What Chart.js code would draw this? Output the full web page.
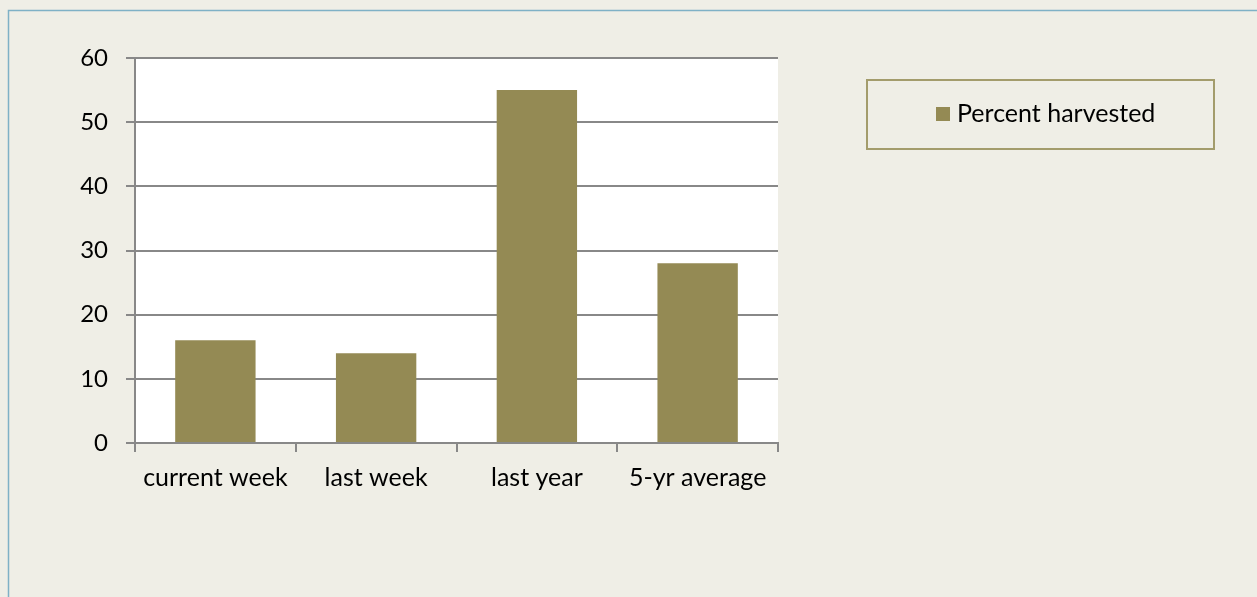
<!DOCTYPE html>
<html>
<head>
<meta charset="utf-8">
<script src="https://cdn.jsdelivr.net/npm/chart.js@4/dist/chart.umd.min.js"></script>
<style>
  html, body { margin: 0; padding: 0; background: #efeee6; overflow: hidden; }
  #grafico { position: absolute; left: 0; top: 0; }
</style>
</head>
<body>
<canvas id="grafico" width="1257" height="597"></canvas>
<script>
// datos
const categorias = ['current week', 'last week', 'last year', '5-yr average'];
const porcentajes = [16, 14, 55, 28];
const nombreSerie = 'Percent harvested';
const colorBarra = '#948a54';

const fuente = "Lato, 'Open Sans', sans-serif";

// fondo, marco exterior y area blanca del grafico
const fondoPlugin = {
    id: 'fondo',
    beforeDraw(chart) {
        const ctx = chart.ctx;
        const a = chart.chartArea;
        ctx.save();
        ctx.fillStyle = '#efeee6';
        ctx.fillRect(0, 0, chart.width, chart.height);
        ctx.strokeStyle = '#7fb1c6';
        ctx.lineWidth = 1.5;
        ctx.strokeRect(8.5, 10.5, 1400, 800);
        ctx.fillStyle = '#ffffff';
        ctx.fillRect(a.left, a.top, a.right - a.left, a.bottom - a.top);
        ctx.restore();
    }
};

// leyenda con recuadro, como en la hoja original
const leyendaPlugin = {
    id: 'leyendaCaja',
    afterDraw(chart) {
        const ctx = chart.ctx;
        const ds = chart.data.datasets[0];
        ctx.save();
        ctx.strokeStyle = '#a39c6c';
        ctx.lineWidth = 2;
        ctx.strokeRect(867, 80, 347, 69);
        ctx.fillStyle = ds.backgroundColor;
        ctx.fillRect(936, 107, 14, 14);
        ctx.fillStyle = '#000000';
        ctx.font = '25px ' + fuente;
        ctx.textBaseline = 'middle';
        ctx.fillText(ds.label, 957, 114);
        ctx.restore();
    }
};

const ctx = document.getElementById('grafico');
new Chart(ctx, {
    type: 'bar',
    data: {
        labels: categorias,
        datasets: [{
            label: nombreSerie,
            data: porcentajes,
            backgroundColor: colorBarra,
            categoryPercentage: 1,
            barPercentage: 0.5
        }]
    },
    options: {
        responsive: false,
        animation: false,
        devicePixelRatio: 1,
        layout: { padding: { left: 0, top: 58, right: 479, bottom: 0 } },
        plugins: {
            legend: { display: false },
            tooltip: { enabled: false }
        },
        scales: {
            x: {
                afterFit: (s) => { s.height = 154; },
                grid: { drawOnChartArea: false, color: '#888888', lineWidth: 2, tickLength: 9, offset: true },
                border: { color: '#888888', width: 2 },
                ticks: { color: '#000000', font: { family: fuente, size: 25 }, padding: 11 }
            },
            y: {
                min: 0,
                max: 60,
                afterFit: (s) => { s.width = 135; },
                grid: { color: '#888888', lineWidth: 2, tickLength: 9 },
                border: { color: '#888888', width: 2 },
                ticks: { stepSize: 10, color: '#000000', font: { family: fuente, size: 24 }, padding: 18 }
            }
        }
    },
    plugins: [fondoPlugin, leyendaPlugin]
});
</script>
</body>
</html>
